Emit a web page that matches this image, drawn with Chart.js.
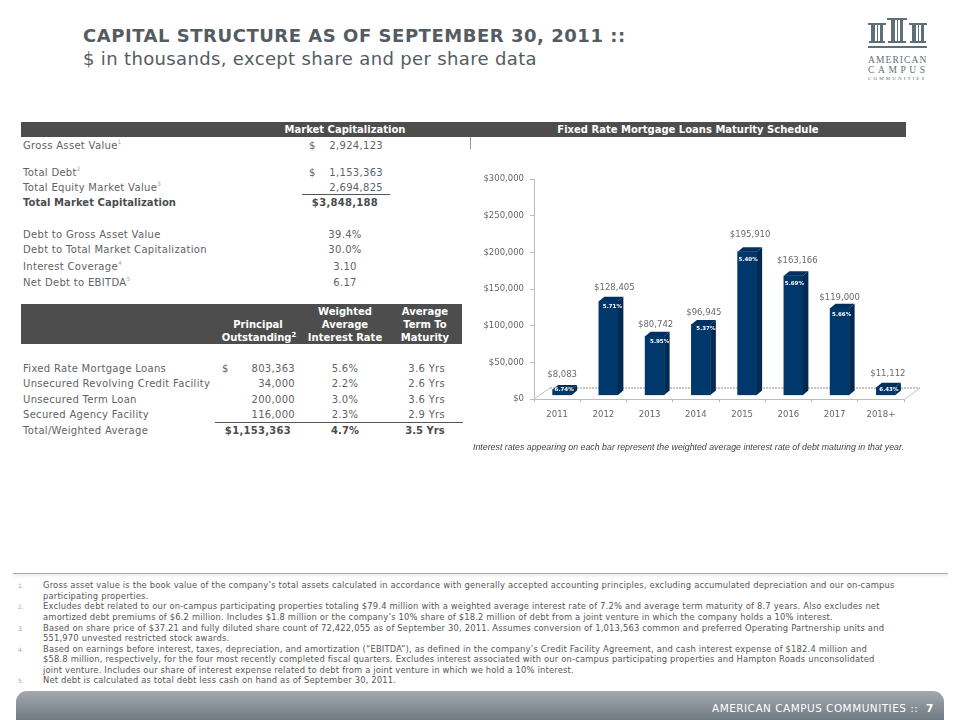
<!DOCTYPE html>
<html>
<head>
<meta charset="utf-8">
<title>Capital Structure</title>
<script src="https://cdn.jsdelivr.net/npm/chart.js@4"></script>
<style>
  html, body { margin: 0; background: #fff; }
  #page { position: relative; width: 960px; height: 720px; overflow: hidden; font-family: "DejaVu Sans", sans-serif; color: #606366; }
  #page div { position: absolute; white-space: nowrap; }
  canvas { position: absolute; left: 470px; top: 160px; }
  .t { font-size: 10px; line-height: 14px; letter-spacing: 0.31px; transform: translateY(-6.5px); }
  .r { text-align: right; transform: translate(-100%, -6.5px); }
  .c { text-align: center; transform: translate(-50%, -6.5px); }
  .b { font-weight: bold; color: #4a4d50; letter-spacing: 0.05px; }
  .n { letter-spacing: 0.3px; }
  .h { color: #fff; font-weight: bold; font-size: 10px; line-height: 14px; transform: translate(-50%, -7px); }
  .bar { background: #4d4d4d; }
  .rule { background: #555; height: 1px; }
  sup { font-size: 6px; line-height: 0; color: #aaa; }
  .h sup { color: #fff; font-size: 7px; }
  .fn { font-size: 8.4px; line-height: 11px; letter-spacing: 0.17px; color: #555; left: 43px; transform: translateY(-5.5px); }
  .fnn { font-size: 6px; line-height: 11px; color: #aaa; left: 18px; transform: translateY(-5.5px); }
</style>
</head>
<body>
<div id="page">
  <div style="left:83px;top:25px;font-size:18px;line-height:22px;font-weight:bold;color:#545c63;letter-spacing:0.53px">CAPITAL STRUCTURE AS OF SEPTEMBER 30, 2011 ::</div>
  <div style="left:83px;top:48px;font-size:18px;line-height:22px;color:#545c63;letter-spacing:0.35px">$ in thousands, except share and per share data</div>

  <svg style="position:absolute;left:866px;top:14px" width="64" height="40" viewBox="0 0 64 40" fill="#5f6f78">
    <rect x="2" y="9" width="18" height="2"/><rect x="5" y="11" width="4" height="16"/><rect x="11" y="11" width="1" height="16"/><rect x="14" y="11" width="3" height="16"/><rect x="3" y="27" width="16" height="2"/>
    <rect x="21" y="4" width="20" height="2"/><rect x="25" y="6" width="4" height="21"/><rect x="31" y="6" width="1" height="21"/><rect x="34" y="6" width="3" height="21"/><rect x="22" y="27" width="18" height="2"/>
    <rect x="43" y="9" width="18" height="2"/><rect x="46" y="11" width="4" height="16"/><rect x="52" y="11" width="1" height="16"/><rect x="55" y="11" width="3" height="16"/><rect x="44" y="27" width="16" height="2"/>
    <rect x="2" y="32" width="59" height="2"/>
  </svg>
  <div style="left:868px;top:55px;font:9.5px/10px 'Liberation Serif',serif;letter-spacing:1.1px;color:#5f6f78">AMERICAN</div>
  <div style="left:868px;top:65px;font:9.5px/10px 'Liberation Serif',serif;letter-spacing:3.6px;color:#5f6f78">CAMPUS</div>
  <div style="left:868px;top:75px;font:5px/8px 'Liberation Serif',serif;letter-spacing:2.1px;color:#5f6f78">COMMUNITIES</div>

  <div class="bar" style="left:21px;top:122px;width:885px;height:15px"></div>
  <div class="h" style="left:345px;top:129.5px">Market Capitalization</div>
  <div class="h" style="left:688px;top:129.5px">Fixed Rate Mortgage Loans Maturity Schedule</div>
  <div style="left:470px;top:137px;width:1px;height:12px;background:#999"></div>

  <div class="t" style="left:23px;top:145px">Gross Asset Value<sup>1</sup></div>
  <div class="t" style="left:309px;top:145px">$</div><div class="t r" style="left:383px;top:145px">2,924,123</div>
  <div class="t" style="left:23px;top:172px">Total Debt<sup>2</sup></div>
  <div class="t" style="left:309px;top:172px">$</div><div class="t r" style="left:383px;top:172px">1,153,363</div>
  <div class="t" style="left:23px;top:187px">Total Equity Market Value<sup>3</sup></div>
  <div class="t r" style="left:383px;top:187px">2,694,825</div>
  <div class="rule" style="left:302px;top:194px;width:88px"></div>
  <div class="t b" style="left:23px;top:202px">Total Market Capitalization</div>
  <div class="t c b n" style="left:345px;top:202px">$3,848,188</div>
  <div class="t" style="left:23px;top:234px">Debt to Gross Asset Value</div><div class="t c" style="left:345px;top:234px">39.4%</div>
  <div class="t" style="left:23px;top:249px">Debt to Total Market Capitalization</div><div class="t c" style="left:345px;top:249px">30.0%</div>
  <div class="t" style="left:23px;top:266px">Interest Coverage<sup>4</sup></div><div class="t c" style="left:345px;top:266px">3.10</div>
  <div class="t" style="left:23px;top:282px">Net Debt to EBITDA<sup>5</sup></div><div class="t c" style="left:345px;top:282px">6.17</div>

  <div class="bar" style="left:21px;top:304px;width:441px;height:40px"></div>
  <div class="h" style="left:258px;top:324.5px">Principal</div>
  <div class="h" style="left:259px;top:337.5px">Outstanding<sup>2</sup></div>
  <div class="h" style="left:345px;top:311.5px">Weighted</div>
  <div class="h" style="left:345px;top:324.5px">Average</div>
  <div class="h" style="left:345px;top:337.5px">Interest Rate</div>
  <div class="h" style="left:425px;top:311.5px">Average</div>
  <div class="h" style="left:425px;top:324.5px">Term To</div>
  <div class="h" style="left:425px;top:337.5px">Maturity</div>

  <div class="t" style="left:23px;top:367.5px">Fixed Rate Mortgage Loans</div>
  <div class="t" style="left:222px;top:367.5px">$</div><div class="t r" style="left:295px;top:367.5px">803,363</div>
  <div class="t c" style="left:345px;top:367.5px">5.6%</div><div class="t r" style="left:445px;top:367.5px">3.6 Yrs</div>
  <div class="t" style="left:23px;top:383px">Unsecured Revolving Credit Facility</div>
  <div class="t r" style="left:295px;top:383px">34,000</div>
  <div class="t c" style="left:345px;top:383px">2.2%</div><div class="t r" style="left:445px;top:383px">2.6 Yrs</div>
  <div class="t" style="left:23px;top:399px">Unsecured Term Loan</div>
  <div class="t r" style="left:295px;top:399px">200,000</div>
  <div class="t c" style="left:345px;top:399px">3.0%</div><div class="t r" style="left:445px;top:399px">3.6 Yrs</div>
  <div class="t" style="left:23px;top:414px">Secured Agency Facility</div>
  <div class="t r" style="left:295px;top:414px">116,000</div>
  <div class="t c" style="left:345px;top:414px">2.3%</div><div class="t r" style="left:445px;top:414px">2.9 Yrs</div>
  <div class="rule" style="left:215px;top:422px;width:248px"></div>
  <div class="t" style="left:23px;top:430px">Total/Weighted Average</div>
  <div class="t c b n" style="left:258px;top:430px">$1,153,363</div>
  <div class="t c b" style="left:345px;top:430px">4.7%</div>
  <div class="t c b" style="left:425px;top:430px">3.5 Yrs</div>

  <canvas id="maturityChart" width="460" height="300"></canvas>
  <div style="left:473px;top:441px;font:italic 8.8px/12px 'Liberation Sans',sans-serif;color:#444">Interest rates appearing on each bar represent the weighted average interest rate of debt maturing in that year.</div>

  <div style="left:13px;top:573px;width:935px;height:1px;background:#a8a8a8"></div>
  <div style="left:13px;top:574px;width:935px;height:4px;background:linear-gradient(#eee,#fff)"></div>

  <div class="fnn" style="top:585px">1.</div>
  <div class="fn" style="top:585px">Gross asset value is the book value of the company’s total assets calculated in accordance with generally accepted accounting principles, excluding accumulated depreciation and our on-campus</div>
  <div class="fn" style="top:596px">participating properties.</div>
  <div class="fnn" style="top:606px">2.</div>
  <div class="fn" style="top:606px">Excludes debt related to our on-campus participating properties totaling $79.4 million with a weighted average interest rate of 7.2% and average term maturity of 8.7 years. Also excludes net</div>
  <div class="fn" style="top:617px">amortized debt premiums of $6.2 million.  Includes $1.8 million or the company’s 10% share of $18.2 million of debt from a joint venture in which the company holds a 10% interest.</div>
  <div class="fnn" style="top:628px">3.</div>
  <div class="fn" style="top:628px">Based on share price of $37.21 and fully diluted share count of 72,422,055 as of September 30, 2011. Assumes conversion of 1,013,563 common and preferred Operating Partnership units and</div>
  <div class="fn" style="top:638px">551,970 unvested restricted stock awards.</div>
  <div class="fnn" style="top:648.5px">4.</div>
  <div class="fn" style="top:648.5px">Based on earnings before interest, taxes, depreciation, and amortization (“EBITDA”), as defined in the company’s Credit Facility Agreement, and cash interest expense of $182.4 million and</div>
  <div class="fn" style="top:659px">$58.8 million, respectively, for the four most recently completed fiscal quarters. Excludes interest associated with our on-campus participating properties and Hampton Roads unconsolidated</div>
  <div class="fn" style="top:669.5px">joint venture.  Includes our share of interest expense related to debt from a joint venture in which we hold a 10% interest.</div>
  <div class="fnn" style="top:680px">5.</div>
  <div class="fn" style="top:680px">Net debt is calculated as total debt less cash on hand as of September 30, 2011.</div>

  <div style="left:16px;top:691px;width:928px;height:29px;border-radius:11px 11px 0 0;background:linear-gradient(#a4a8af,#6f7b83)"></div>
  <div style="left:712px;top:701px;font-size:10.5px;line-height:14px;color:#fff;letter-spacing:0.47px">AMERICAN CAMPUS COMMUNITIES ::</div>
  <div style="left:926px;top:701px;font-size:10.5px;line-height:14px;color:#fff;font-weight:bold">7</div>
</div>

<script>
const years = ['2011', '2012', '2013', '2014', '2015', '2016', '2017', '2018+'];
const maturities = [8083, 128405, 80742, 96945, 195910, 163166, 119000, 11112];
const rates = ['6.74%', '5.71%', '5.95%', '5.37%', '5.40%', '5.69%', '5.66%', '6.43%'];

// how far the labels sit from each bar, placed by hand in the original slide
const valueNudge = [[0, 14.6], [6, 13.4], [1, 11.4], [3, 11.5], [3, 17], [4, 15.3], [0, 10.4], [2, 13.4]];
const rateNudge = [[2, 0], [4, 5], [5, 5], [5, 4.5], [1, 8], [1, 7.7], [2, 6], [3, 2.3]];

const fontFamily = '"DejaVu Sans", sans-serif';
const shift = { x: 5, y: -3.5 };
const depth = { x: 5.5, y: 4.5 };

// fake 3d: floor behind the bars, then side and top faces on every bar
const box3d = {
  id: 'box3d',
  beforeDatasetsDraw(chart) {
    const { ctx, chartArea: a } = chart;
    ctx.save();
    ctx.strokeStyle = '#c4c4c4';
    ctx.beginPath();
    ctx.moveTo(a.left, a.bottom);
    ctx.lineTo(a.left + 16, a.bottom - 11);
    ctx.moveTo(a.right + 1, a.bottom);
    ctx.lineTo(a.right + 16, a.bottom - 11);
    ctx.stroke();
    ctx.strokeStyle = '#b2b2b2';
    ctx.setLineDash([2, 1]);
    ctx.lineWidth = 1.5;
    ctx.beginPath();
    ctx.moveTo(a.left + 16, a.bottom - 11);
    ctx.lineTo(a.right + 16, a.bottom - 11);
    ctx.stroke();
    ctx.restore();
    ctx.save();
    ctx.translate(shift.x, shift.y);
  },
  afterDatasetsDraw(chart) {
    const { ctx } = chart;
    chart.getDatasetMeta(0).data.forEach(bar => {
      const x0 = bar.x - bar.width / 2;
      const x1 = bar.x + bar.width / 2;
      ctx.fillStyle = '#002a52';
      ctx.beginPath();
      ctx.moveTo(x1, bar.y);
      ctx.lineTo(x1 + depth.x, bar.y - depth.y);
      ctx.lineTo(x1 + depth.x, bar.base - depth.y);
      ctx.lineTo(x1, bar.base);
      ctx.fill();
      ctx.fillStyle = '#00305e';
      ctx.beginPath();
      ctx.moveTo(x0, bar.y);
      ctx.lineTo(x0 + depth.x, bar.y - depth.y);
      ctx.lineTo(x1 + depth.x, bar.y - depth.y);
      ctx.lineTo(x1, bar.y);
      ctx.fill();
    });
    ctx.textAlign = 'center';
    ctx.textBaseline = 'middle';
    chart.getDatasetMeta(0).data.forEach((bar, i) => {
      ctx.font = '8.5px ' + fontFamily;
      ctx.fillStyle = '#6a6a6a';
      ctx.fillText('$' + maturities[i].toLocaleString('en-US'), bar.x + valueNudge[i][0], bar.y - valueNudge[i][1]);
      ctx.font = 'bold 5.5px ' + fontFamily;
      ctx.fillStyle = '#fff';
      ctx.fillText(rates[i], bar.x + rateNudge[i][0], bar.y + rateNudge[i][1]);
    });
    ctx.restore();
  }
};

new Chart(document.getElementById('maturityChart'), {
  type: 'bar',
  data: {
    labels: years,
    datasets: [{
      label: 'Fixed Rate Mortgage Loans Maturing',
      data: maturities,
      backgroundColor: '#00386b',
      barThickness: 19
    }]
  },
  plugins: [box3d],
  options: {
    responsive: false,
    animation: false,
    layout: { padding: { top: 19, right: 26 } },
    plugins: { legend: { display: false }, tooltip: { enabled: false } },
    scales: {
      x: {
        afterFit(scale) { scale.height = 61; },
        border: { color: '#bdbdbd' },
        grid: { drawOnChartArea: false, color: '#bdbdbd', tickLength: 3 },
        ticks: { color: '#666', padding: 8, font: { family: fontFamily, size: 8.5 }, maxRotation: 0 }
      },
      y: {
        min: 0,
        max: 300000,
        afterFit(scale) { scale.width = 64; },
        border: { color: '#bdbdbd' },
        grid: { drawOnChartArea: false, color: '#bdbdbd', tickLength: 4 },
        ticks: {
          stepSize: 50000,
          color: '#666',
          padding: 6,
          font: { family: fontFamily, size: 8.5 },
          callback: value => '$' + value.toLocaleString('en-US')
        }
      }
    }
  }
});
</script>
</body>
</html>
